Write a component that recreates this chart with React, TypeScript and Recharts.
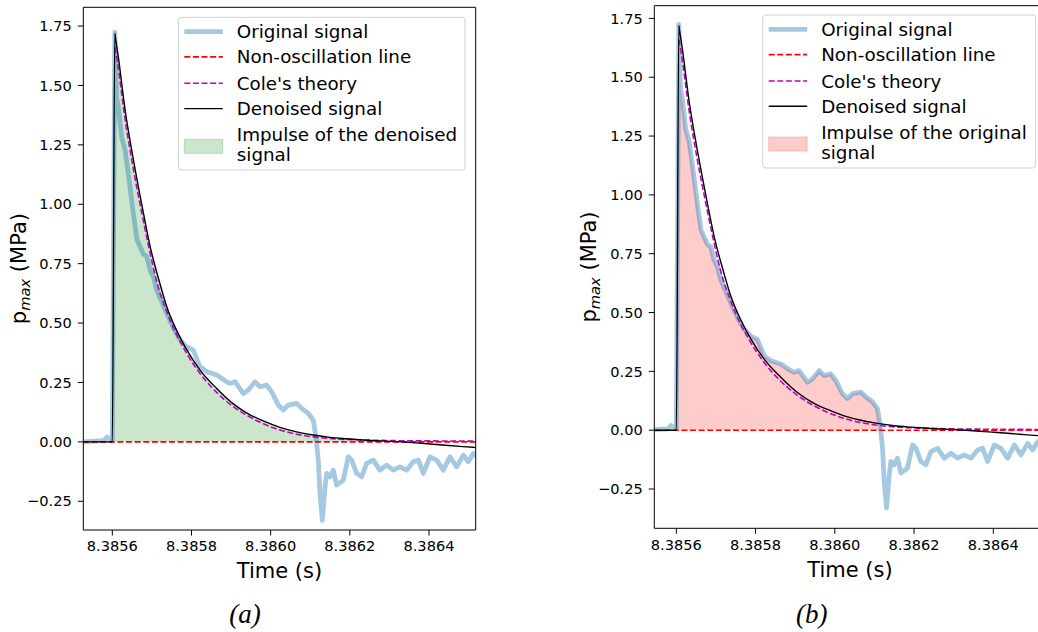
import React from "react";
import { ComposedChart, Line, Area, XAxis, YAxis } from "recharts";

// ---- data ----
const origTime = [
  8.385526, 8.3855563, 8.385579, 8.3855866, 8.3855942, 8.3856, 8.3856063, 8.3856106, 8.3856152, 8.3856237,
  8.3856321, 8.3856404, 8.385653, 8.3856624, 8.38567, 8.3856783, 8.3856869, 8.3856952, 8.3857036, 8.3857122,
  8.3857248, 8.3857374, 8.3857541, 8.385771, 8.3857879, 8.3858046, 8.3858215, 8.3858385, 8.3858637, 8.385889,
  8.3858973, 8.3859099, 8.3859309, 8.3859435, 8.3859605, 8.3859731, 8.38599, 8.3860026, 8.3860193, 8.3860319,
  8.3860446, 8.3860658, 8.3860784, 8.3860951, 8.3861077, 8.3861145, 8.3861204, 8.3861246, 8.3861305, 8.3861373,
  8.3861416, 8.3861499, 8.3861582, 8.3861668, 8.3861835, 8.3861961, 8.3862047, 8.3862173, 8.38623, 8.3862426,
  8.3862593, 8.3862762, 8.3862931, 8.3863098, 8.3863267, 8.3863437, 8.3863603, 8.386373, 8.3863856, 8.3864025,
  8.3864194, 8.3864361, 8.386453, 8.38647, 8.3864866, 8.3864993, 8.3865119, 8.3865205,
];
const origValue = [
  0.0, 0.003, 0.005, 0.02, 0.012, 0.005, 1.724, 1.45, 1.41, 1.28,
  1.229, 1.13, 0.962, 0.85, 0.822, 0.79, 0.78, 0.724, 0.695, 0.639,
  0.59, 0.541, 0.48, 0.429, 0.4, 0.386, 0.316, 0.295, 0.281, 0.253,
  0.246, 0.253, 0.204, 0.218, 0.253, 0.232, 0.239, 0.211, 0.155, 0.134,
  0.155, 0.162, 0.141, 0.12, 0.091, 0.021, -0.077, -0.217, -0.33, -0.19,
  -0.133, -0.147, -0.119, -0.182, -0.161, -0.063, -0.077, -0.133, -0.147, -0.091,
  -0.077, -0.119, -0.098, -0.119, -0.105, -0.119, -0.084, -0.077, -0.133, -0.063,
  -0.077, -0.119, -0.063, -0.105, -0.056, -0.084, -0.049, -0.06,
];

const denTime = [
  8.385526, 8.3856, 8.3856063, 8.3856076, 8.3856144, 8.3856321, 8.385653, 8.3856743, 8.3856952, 8.3857205,
  8.3857374, 8.3857627, 8.3857879, 8.3858215, 8.3858637, 8.3859056, 8.3859477, 8.3859814, 8.3860236, 8.3860658,
  8.3861077, 8.3861499, 8.3861921, 8.386234, 8.3863184, 8.3864025, 8.3864866, 8.3865205,
];
const denValue = [
  0, 0, 1.72, 1.705, 1.63, 1.4, 1.19, 1.0, 0.825, 0.665,
  0.57, 0.468, 0.388, 0.302, 0.225, 0.16, 0.114, 0.088, 0.061, 0.042,
  0.029, 0.019, 0.013, 0.008, 0.001, -0.009, -0.02, -0.024,
];

const coleTime = [
  8.3856068, 8.3856144, 8.3856321, 8.385653, 8.3856743, 8.3856909, 8.3857129, 8.3857374, 8.3857879, 8.3858215,
  8.3858637, 8.3859056, 8.3859477, 8.3859814, 8.3860236, 8.3860658, 8.3861077, 8.3861499, 8.386234, 8.3863184,
  8.3864025, 8.3865205,
];
const coleValue = [
  1.66, 1.58, 1.36, 1.15, 0.965, 0.83, 0.67, 0.548, 0.372, 0.288,
  0.208, 0.148, 0.104, 0.076, 0.05, 0.032, 0.021, 0.014, 0.008, 0.005,
  0.004, 0.003,
];

const nonOscTime = [8.385526, 8.3865205];
const nonOscValue = [0, 0];

const impulseStart = 8.3856;

const xTicks = [8.3856, 8.3858, 8.386, 8.3862, 8.3864];
const yTicks = [-0.25, 0, 0.25, 0.5, 0.75, 1.0, 1.25, 1.5, 1.75];

const legendLabels = ["Original signal", "Non-oscillation line", "Cole's theory", "Denoised signal"];
const impulseLabelA = ["Impulse of the denoised", "signal"];
const impulseLabelB = ["Impulse of the original", "signal"];
const xLabel = "Time (s)";
const panelLabels = ["(a)", "(b)"];

// ---- styles ----
const FONT = "DejaVu Sans";
const BLUE = "#1f77b4";
const MAGENTA = "#bf00bf";
const RED = "#ff0000";
const DASH = "6 2.6";

type Row = { t: number; orig?: number; den?: number; cole?: number; non?: number; fill?: number };

function buildRows(fillSource: "den" | "orig"): Row[] {
  const map = new Map<number, Row>();
  const put = (t: number, key: keyof Row, v: number) => {
    const k = Math.round(t * 1e8);
    let r = map.get(k);
    if (!r) {
      r = { t };
      map.set(k, r);
    }
    (r as any)[key] = v;
  };
  origTime.forEach((t, i) => put(t, "orig", origValue[i]));
  denTime.forEach((t, i) => put(t, "den", denValue[i]));
  coleTime.forEach((t, i) => put(t, "cole", coleValue[i]));
  nonOscTime.forEach((t, i) => put(t, "non", nonOscValue[i]));
  const srcT = fillSource === "den" ? denTime : origTime;
  const srcV = fillSource === "den" ? denValue : origValue;
  srcT.forEach((t, i) => {
    if (t >= impulseStart - 1e-9) put(t, "fill", Math.max(srcV[i], 0));
  });
  return Array.from(map.values()).sort((a, b) => a.t - b.t);
}

const rowsA = buildRows("den");
const rowsB = buildRows("orig");

const fmtX = (v: number) => v.toFixed(4);
const fmtY = (v: number) => (v < 0 ? "\u2212" : "") + Math.abs(v).toFixed(2);

type PanelProps = {
  rows: Row[];
  left: number;
  width: number;
  top: number;
  yAxisWidth: number;
  xAxisHeight: number;
  rightMargin: number;
  xDomain: [number, number];
  yDomain: [number, number];
  fillColor: string;
  fillCurve: "monotone" | "linear";
};

function Panel(p: PanelProps) {
  const tickStyle = { fontSize: 14.6, fill: "#000", fontFamily: FONT };
  return (
    <div style={{ position: "absolute", left: p.left, top: 0 }}>
      <ComposedChart
        width={p.width}
        height={632}
        data={p.rows}
        margin={{ top: p.top, right: p.rightMargin, bottom: 0, left: 0 }}
      >
        <XAxis
          dataKey="t"
          type="number"
          domain={p.xDomain}
          allowDataOverflow
          ticks={xTicks}
          interval={0}
          tickFormatter={fmtX}
          tickSize={5.5}
          tickMargin={5.5}
          height={p.xAxisHeight}
          stroke="#000"
          tick={tickStyle}
        />
        <YAxis
          type="number"
          domain={p.yDomain}
          allowDataOverflow
          ticks={yTicks}
          interval={0}
          tickFormatter={fmtY}
          tickSize={5.5}
          tickMargin={6}
          width={p.yAxisWidth}
          stroke="#000"
          tick={tickStyle}
        />
        <Area
          dataKey="fill"
          type={p.fillCurve}
          stroke="none"
          fill={p.fillColor}
          fillOpacity={0.2}
          baseValue={0}
          connectNulls
          isAnimationActive={false}
          activeDot={false}
        />
        <Line
          dataKey="orig"
          type="linear"
          stroke={BLUE}
          strokeOpacity={0.4}
          strokeWidth={4.8}
          strokeLinejoin="round"
          dot={false}
          activeDot={false}
          connectNulls
          isAnimationActive={false}
        />
        <Line
          dataKey="non"
          type="linear"
          stroke={RED}
          strokeWidth={1.6}
          strokeDasharray={DASH}
          dot={false}
          activeDot={false}
          connectNulls
          isAnimationActive={false}
        />
        <Line
          dataKey="cole"
          type="monotone"
          stroke={MAGENTA}
          strokeWidth={1.6}
          strokeDasharray={DASH}
          dot={false}
          activeDot={false}
          connectNulls
          isAnimationActive={false}
        />
        <Line
          dataKey="den"
          type="monotone"
          stroke="#000"
          strokeWidth={1.4}
          dot={false}
          activeDot={false}
          connectNulls
          isAnimationActive={false}
        />
      </ComposedChart>
    </div>
  );
}

function LegendBox(props: { x: number; y: number; w: number; h: number; fill: string; impulse: string[] }) {
  const { x, y, w, h, fill, impulse } = props;
  const hx1 = x + 6;
  const hx2 = x + 44.5;
  const tx = x + 58.5;
  const rows = [14.3, 39.6, 66, 91.3];
  return (
    <g>
      <rect x={x} y={y} width={w} height={h} rx={3} ry={3} fill="#fff" fillOpacity={0.8} stroke="#d0d0d0" strokeWidth={1} />
      <line x1={hx1} x2={hx2} y1={y + rows[0]} y2={y + rows[0]} stroke={BLUE} strokeOpacity={0.4} strokeWidth={4.8} />
      <line x1={hx1} x2={hx2} y1={y + rows[1]} y2={y + rows[1]} stroke={RED} strokeWidth={1.6} strokeDasharray={DASH} />
      <line x1={hx1} x2={hx2} y1={y + rows[2]} y2={y + rows[2]} stroke={MAGENTA} strokeWidth={1.6} strokeDasharray={DASH} />
      <line x1={hx1} x2={hx2} y1={y + rows[3]} y2={y + rows[3]} stroke="#000" strokeWidth={1.4} />
      <rect x={hx1} y={y + 122} width={hx2 - hx1} height={14} fill={fill} fillOpacity={0.2} stroke={fill} strokeOpacity={0.2} />
      {legendLabels.map((s, i) => (
        <text key={s} x={tx} y={y + rows[i]} dominantBaseline="central" fontSize={18.3} fontFamily={FONT} fill="#000">
          {s}
        </text>
      ))}
      <text x={tx} y={y + 117.5} dominantBaseline="central" fontSize={18.3} fontFamily={FONT} fill="#000">
        {impulse[0]}
      </text>
      <text x={tx} y={y + 137.5} dominantBaseline="central" fontSize={18.3} fontFamily={FONT} fill="#000">
        {impulse[1]}
      </text>
    </g>
  );
}

function YLabel(props: { x: number; y: number }) {
  const { x, y } = props;
  return (
    <text
      x={x}
      y={y}
      transform={`rotate(-90 ${x} ${y})`}
      textAnchor="middle"
      fontSize={21}
      fontFamily={FONT}
      fill="#000"
    >
      p
      <tspan fontSize={14.7} fontStyle="italic" dy={4}>
        max
      </tspan>
      <tspan dy={-4}> (MPa)</tspan>
    </text>
  );
}

export default function App() {
  return (
    <div
      style={{
        position: "absolute",
        left: 0,
        top: 0,
        width: 1038,
        height: 632,
        overflow: "hidden",
        background: "#fff",
      }}
    >
      <Panel
        rows={rowsA}
        left={0}
        width={520}
        top={7.3}
        yAxisWidth={83.3}
        xAxisHeight={102}
        rightMargin={44.3}
        xDomain={[8.3855267, 8.386518]}
        yDomain={[-0.371, 1.829]}
        fillColor="#008000"
        fillCurve="monotone"
      />
      <Panel
        rows={rowsB}
        left={560}
        width={487}
        top={5.7}
        yAxisWidth={94.3}
        xAxisHeight={103.7}
        rightMargin={0}
        xDomain={[8.3855444, 8.3865355]}
        yDomain={[-0.417, 1.804]}
        fillColor="#ff0000"
        fillCurve="linear"
      />
      <svg
        width={1038}
        height={632}
        style={{ position: "absolute", left: 0, top: 0, pointerEvents: "none" }}
      >
        {/* top / right spines */}
        <line x1={83.3} x2={475.7} y1={7.3} y2={7.3} stroke="#000" strokeWidth={1} />
        <line x1={475.7} x2={475.7} y1={7.3} y2={530} stroke="#000" strokeWidth={1} />
        <line x1={654.3} x2={1046} y1={5.7} y2={5.7} stroke="#000" strokeWidth={1} />

        <LegendBox x={178.3} y={17.3} w={286.7} h={152.7} fill="#008000" impulse={impulseLabelA} />
        <LegendBox x={762.7} y={15} w={273} h={153} fill="#ff0000" impulse={impulseLabelB} />

        <YLabel x={26} y={268.6} />
        <YLabel x={596} y={267} />

        <text x={279.5} y={578} textAnchor="middle" fontSize={21} fontFamily={FONT} fill="#000">
          {xLabel}
        </text>
        <text x={850} y={576.5} textAnchor="middle" fontSize={21} fontFamily={FONT} fill="#000">
          {xLabel}
        </text>

        <text x={245} y={623} textAnchor="middle" fontSize={27} fontStyle="italic" fontFamily="Liberation Serif" fill="#000">
          {panelLabels[0]}
        </text>
        <text x={811.7} y={623} textAnchor="middle" fontSize={27} fontStyle="italic" fontFamily="Liberation Serif" fill="#000">
          {panelLabels[1]}
        </text>
      </svg>
    </div>
  );
}
